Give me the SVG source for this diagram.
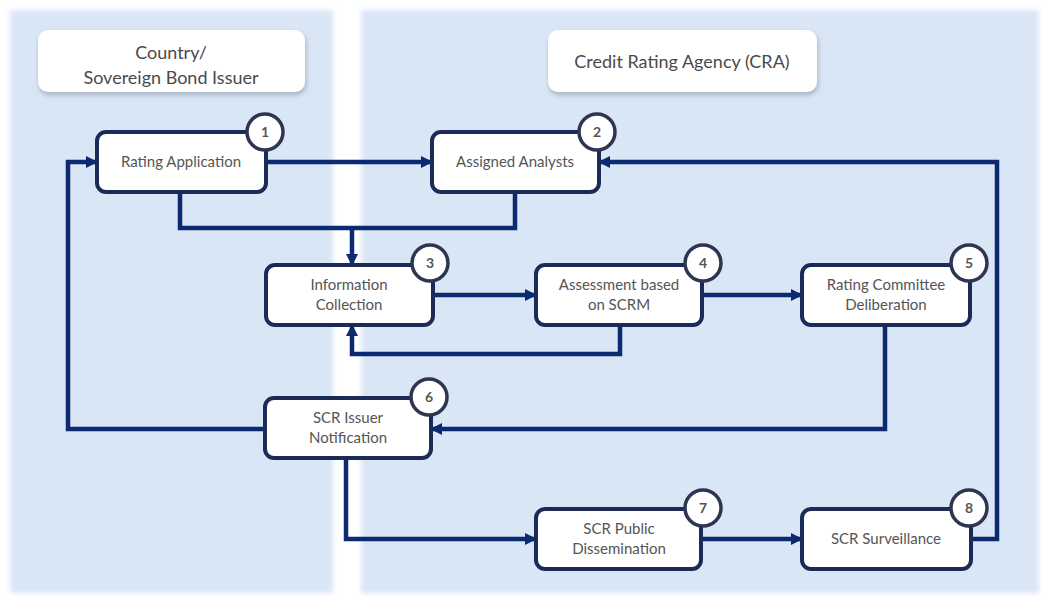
<svg xmlns="http://www.w3.org/2000/svg" width="1044" height="601" viewBox="0 0 1044 601">
  <defs>
    <style>
      .panel { fill: #d9e6f6; }
      .title { fill: #ffffff; }
      .title-text { font-family: Lato, "Liberation Sans", sans-serif; font-size: 18px; fill: #4a4a4a; text-anchor: middle; }
      .box { fill: #ffffff; stroke: #1b2a57; stroke-width: 4; }
      .label { font-family: Lato, "Liberation Sans", sans-serif; font-size: 15px; fill: #555555; text-anchor: middle; }
      .badge { fill: #ffffff; stroke: #2e3550; stroke-width: 3.5; }
      .num { font-family: Lato, "Liberation Sans", sans-serif; font-size: 14px; font-weight: bold; fill: #555555; text-anchor: middle; }
      .link { fill: none; stroke: #0b2a6f; stroke-width: 4.5; stroke-linejoin: miter; }
    </style>
    <filter id="soft" x="-5%" y="-5%" width="110%" height="110%">
      <feGaussianBlur stdDeviation="2.5"/>
    </filter>
    <filter id="shadow" x="-10%" y="-20%" width="120%" height="150%">
      <feDropShadow dx="1" dy="3" stdDeviation="2.5" flood-color="#7d8796" flood-opacity="0.55"/>
    </filter>
    <marker id="arrow" viewBox="0 0 12 12" refX="11" refY="6" markerWidth="12" markerHeight="12" markerUnits="userSpaceOnUse" orient="auto">
      <path d="M0,0 L12,6 L0,12 z" fill="#0b2a6f"/>
    </marker>
  </defs>

  <rect width="1044" height="601" fill="#ffffff"/>

  <!-- swimlanes -->
  <g id="lanes">
    <rect class="panel" x="10" y="10" width="323" height="583" filter="url(#soft)"/>
    <rect class="panel" x="361" y="10" width="678" height="583" filter="url(#soft)"/>
  </g>

  <!-- lane headers -->
  <g id="lane-issuer">
    <rect class="title" x="38" y="30" width="267" height="62" rx="10" filter="url(#shadow)"/>
    <text class="title-text" x="171" y="59">Country/</text>
    <text class="title-text" x="171" y="84">Sovereign Bond Issuer</text>
  </g>
  <g id="lane-cra">
    <rect class="title" x="548" y="30" width="269" height="62" rx="10" filter="url(#shadow)"/>
    <text class="title-text" x="682" y="68">Credit Rating Agency (CRA)</text>
  </g>

  <!-- connectors -->
  <g id="connectors">
    <path class="link" d="M266,162 H432" marker-end="url(#arrow)"/>
    <path class="link" d="M180,192 V228 H515 V192"/>
    <path class="link" d="M352,228 V265" marker-end="url(#arrow)"/>
    <path class="link" d="M433,295 H536" marker-end="url(#arrow)"/>
    <path class="link" d="M702,295 H802" marker-end="url(#arrow)"/>
    <path class="link" d="M620,325 V354 H352 V325" marker-end="url(#arrow)"/>
    <path class="link" d="M885,325 V429 H431" marker-end="url(#arrow)"/>
    <path class="link" d="M265,429 H68 V162 H97" marker-end="url(#arrow)"/>
    <path class="link" d="M346,458 V539 H536" marker-end="url(#arrow)"/>
    <path class="link" d="M701,539 H802" marker-end="url(#arrow)"/>
    <path class="link" d="M971,539 H997 V162 H599" marker-end="url(#arrow)"/>
  </g>

  <!-- process steps -->
  <g id="step1">
    <rect class="box" x="97" y="132" width="169" height="60" rx="9"/>
    <text class="label" x="181" y="167">Rating Application</text>
    <circle class="badge" cx="265" cy="132" r="18"/>
    <text class="num" x="265" y="137">1</text>
  </g>
  <g id="step2">
    <rect class="box" x="432" y="132" width="167" height="60" rx="9"/>
    <text class="label" x="515" y="167">Assigned Analysts</text>
    <circle class="badge" cx="597" cy="132" r="18"/>
    <text class="num" x="597" y="137">2</text>
  </g>
  <g id="step3">
    <rect class="box" x="266" y="265" width="167" height="60" rx="9"/>
    <text class="label" x="349" y="290">Information</text>
    <text class="label" x="349" y="310">Collection</text>
    <circle class="badge" cx="430" cy="263" r="18"/>
    <text class="num" x="430" y="268">3</text>
  </g>
  <g id="step4">
    <rect class="box" x="536" y="265" width="166" height="60" rx="9"/>
    <text class="label" x="619" y="290">Assessment based</text>
    <text class="label" x="619" y="310">on SCRM</text>
    <circle class="badge" cx="703" cy="263" r="18"/>
    <text class="num" x="703" y="268">4</text>
  </g>
  <g id="step5">
    <rect class="box" x="802" y="265" width="168" height="60" rx="9"/>
    <text class="label" x="886" y="290">Rating Committee</text>
    <text class="label" x="886" y="310">Deliberation</text>
    <circle class="badge" cx="969" cy="263" r="18"/>
    <text class="num" x="969" y="268">5</text>
  </g>
  <g id="step6">
    <rect class="box" x="265" y="398" width="166" height="60" rx="9"/>
    <text class="label" x="348" y="423">SCR Issuer</text>
    <text class="label" x="348" y="443">Notification</text>
    <circle class="badge" cx="429" cy="397" r="18"/>
    <text class="num" x="429" y="402">6</text>
  </g>
  <g id="step7">
    <rect class="box" x="536" y="509" width="165" height="60" rx="9"/>
    <text class="label" x="619" y="534">SCR Public</text>
    <text class="label" x="619" y="554">Dissemination</text>
    <circle class="badge" cx="703" cy="508" r="18"/>
    <text class="num" x="703" y="513">7</text>
  </g>
  <g id="step8">
    <rect class="box" x="802" y="509" width="169" height="60" rx="9"/>
    <text class="label" x="886" y="544">SCR Surveillance</text>
    <circle class="badge" cx="969" cy="508" r="18"/>
    <text class="num" x="969" y="513">8</text>
  </g>
</svg>
